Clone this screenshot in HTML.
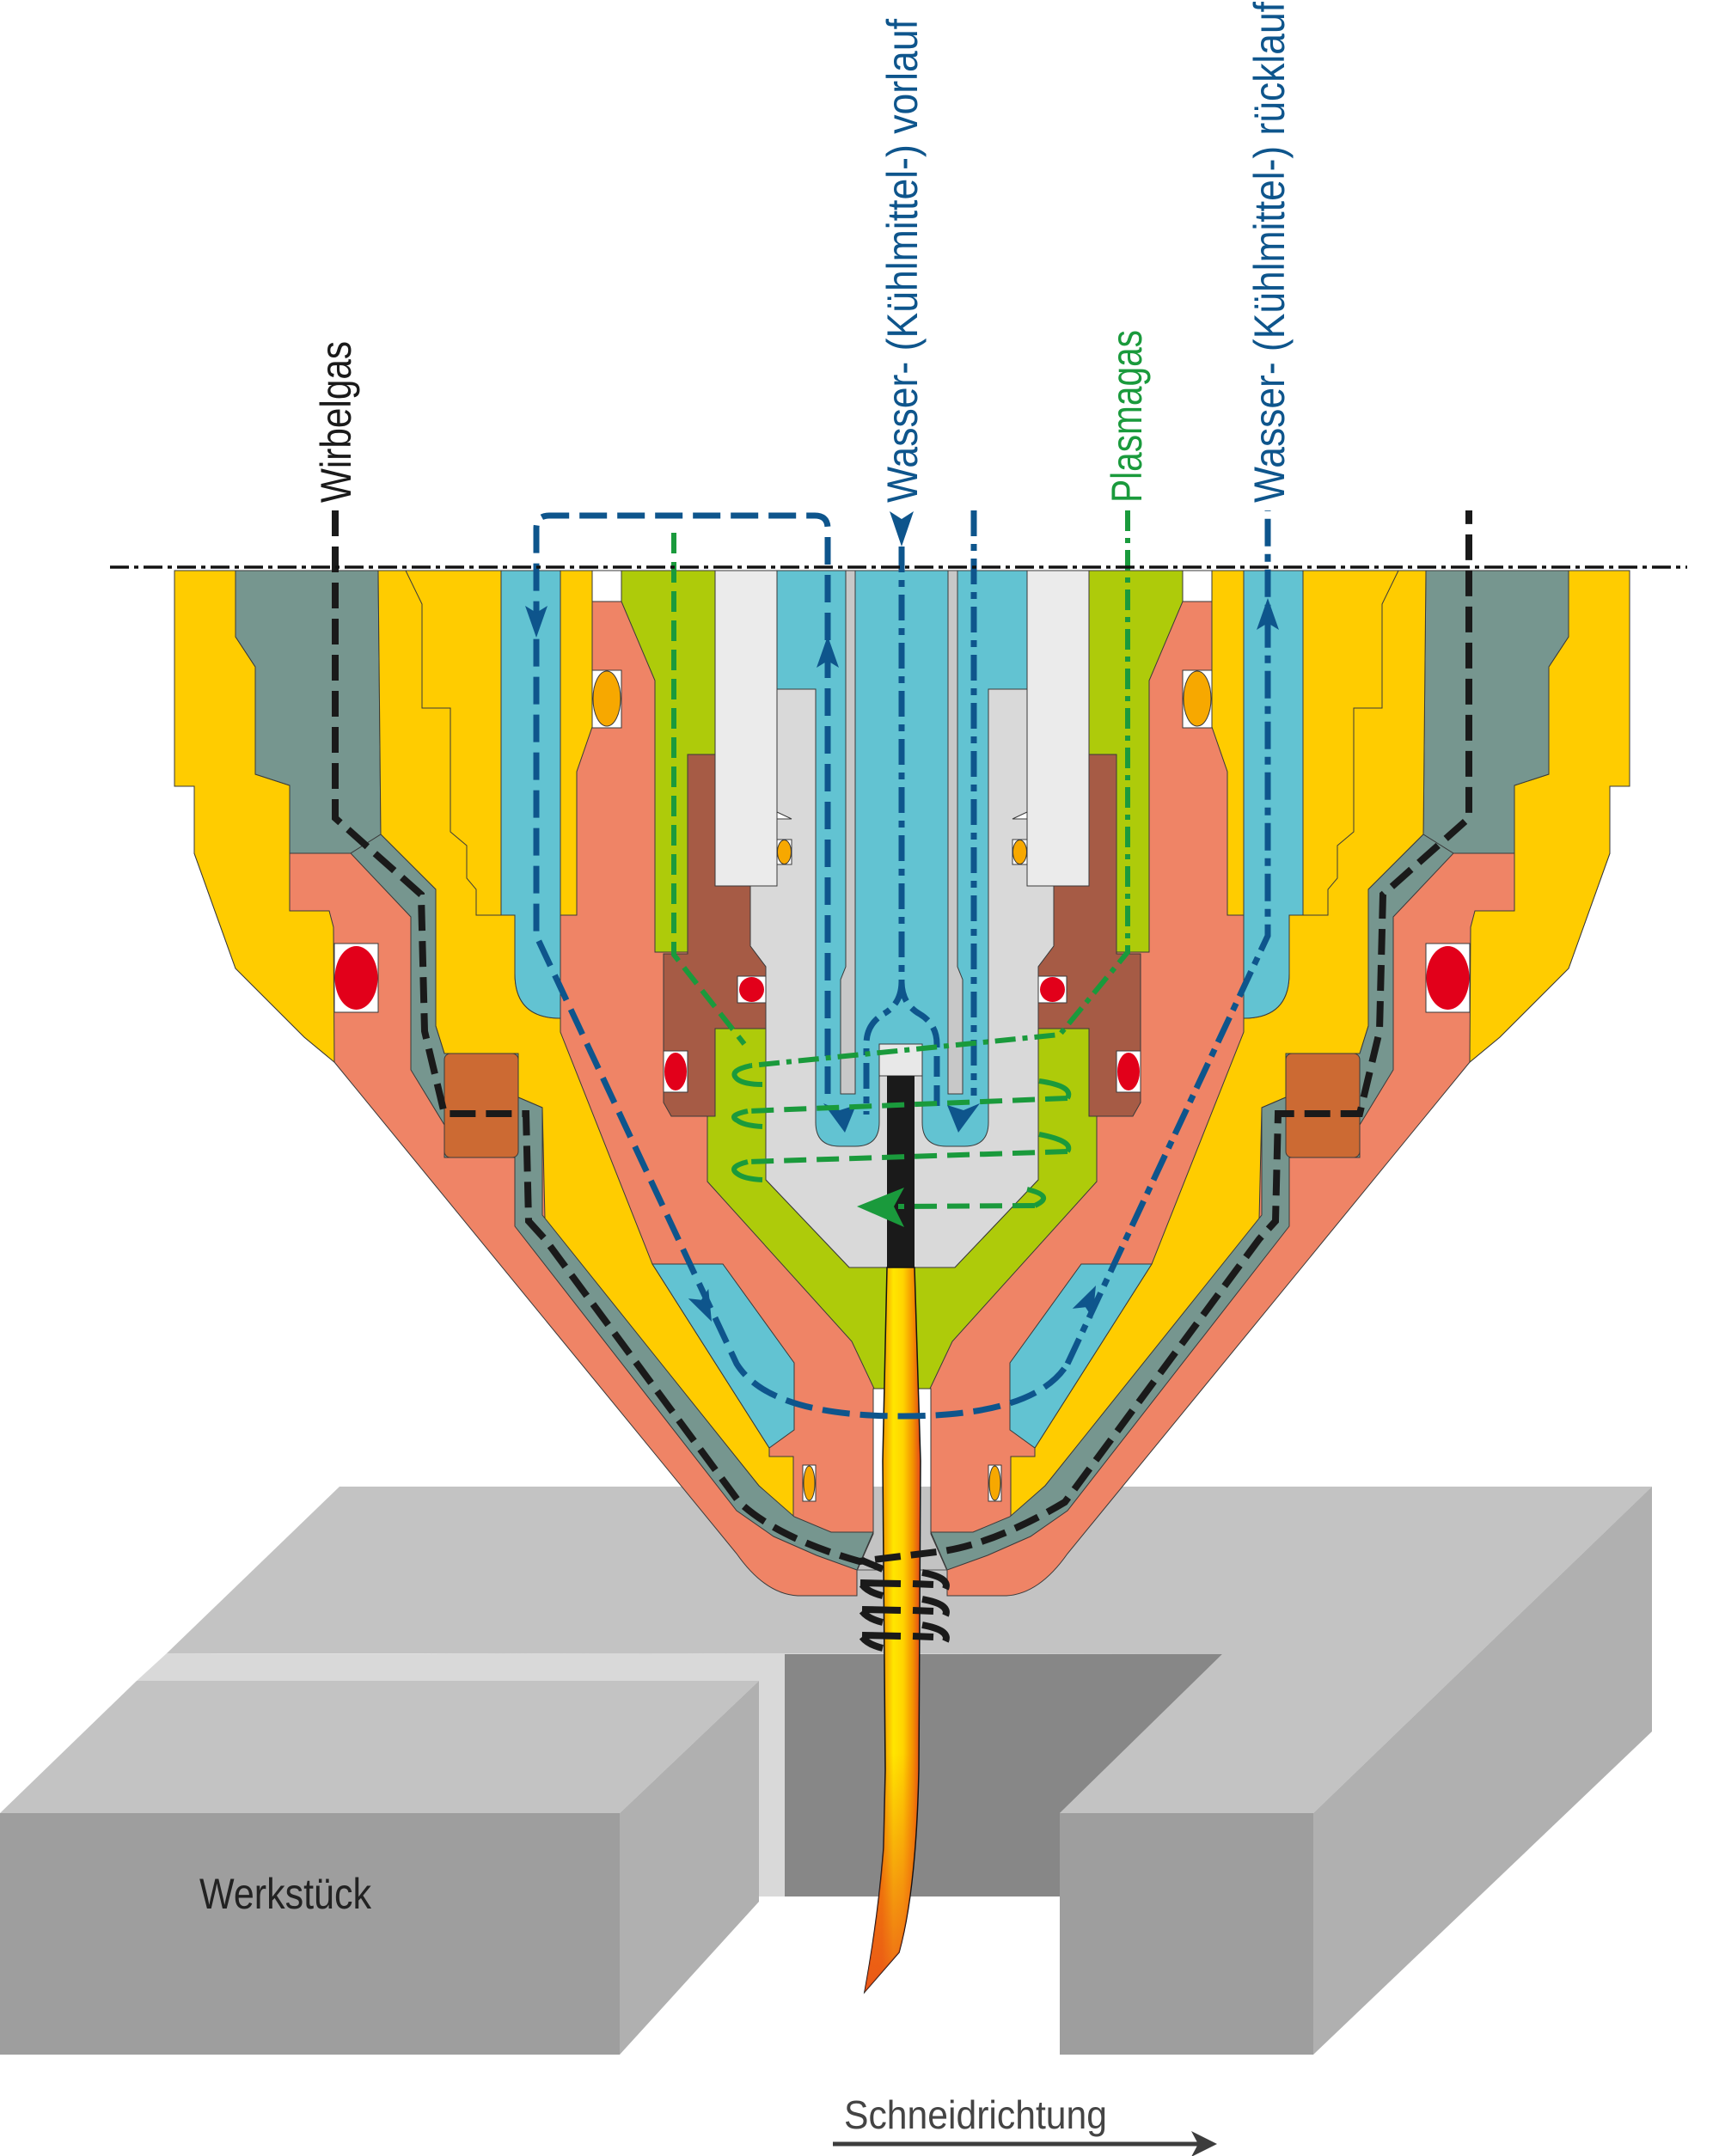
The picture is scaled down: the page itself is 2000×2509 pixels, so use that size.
<!DOCTYPE html>
<html><head><meta charset="utf-8"><style>html,body{margin:0;padding:0;background:#fff}svg{display:block}</style></head>
<body>
<svg xmlns="http://www.w3.org/2000/svg" xmlns:xlink="http://www.w3.org/1999/xlink" width="2000" height="2509" viewBox="0 0 2000 2509">
<defs>
<linearGradient id="fl" x1="1026" y1="0" x2="1071" y2="0" gradientUnits="userSpaceOnUse">
<stop offset="0" stop-color="#F39200"/><stop offset="0.3" stop-color="#FFE600"/><stop offset="0.55" stop-color="#FFD400"/><stop offset="0.8" stop-color="#F39200"/><stop offset="1" stop-color="#E3471A"/>
</linearGradient>
<linearGradient id="fl2" x1="0" y1="2040" x2="0" y2="2318" gradientUnits="userSpaceOnUse">
<stop offset="0" stop-color="#E94E1B" stop-opacity="0"/><stop offset="1" stop-color="#E94E1B" stop-opacity="0.85"/>
</linearGradient>
<g id="A"><path fill="#EF8466" stroke="#3a3a3a" stroke-width="1" d="M203,664 H1049 V1616 H1016 V1785 L997,1828 V1857 H928 Q890,1855 857,1808 L389,1236 L354,1207 L274,1127 L226,993 V915 H203 Z"/></g>
<g id="B" stroke="#3a3a3a" stroke-width="1">
<path fill="#FFCC00" d="M203,664 H274 V741 L297,776 V901 L337,914 V1060 H383 L388,1079 L389,1236 L354,1207 L274,1127 L226,993 V915 H203 Z"/>
<path fill="#76968F" d="M274,664 H440 L443,971 L408,993 H337 V914 L297,901 V776 L274,741 Z"/>
<path fill="#FFCC00" d="M440,664 H583 V1065 H599 V1133 Q599,1185 652,1185 V1201 L759,1471 L895,1685 V1695 H923 V1767 L883,1729 L634,1419 L631,1289 L603,1277 V1226 H517 L507,1194 V1035 L443,971 Z"/>
<path fill="none" d="M472,664 L491,703 V824 H524 V968 L543,984 V1022 L554,1035 V1065 H583"/>
<path fill="#FFCC00" d="M652,664 H689 V846 L671,898 V1065 H652 Z"/>
<path fill="#62C3D2" d="M583,664 H652 V1185 Q599,1185 599,1133 V1065 H583 Z"/>
<rect x="689" y="664" width="34" height="36" fill="#fff"/>
<path fill="#AECB0A" d="M723,664 H832 V878 H800 V1108 H762 V792 L723,700 Z"/>
<rect x="832" y="664" width="72" height="367" fill="#EBEBEB"/>
<path fill="#A65B45" d="M800,878 H832 V1031 H873 V1101 L891,1125 V1197 H832 V1299 H781 L772,1283 V1110 H800 Z"/>
<path fill="#AECB0A" d="M832,1197 H891 V1373 L988,1475 H1049 V1616 H1017 L991,1561 L823,1375 V1299 H832 Z"/>
<path fill="#62C3D2" d="M759,1471 H841 L924,1586 V1664 L895,1685 Z"/>
<path fill="#76968F" d="M408,993 L443,971 L507,1035 V1194 L517,1226 H603 V1277 L631,1289 V1414 L883,1729 L924,1765 L967,1783 H1016 L997,1827 L950,1810 L900,1788 L857,1758 L599,1427 V1347 H517 V1309 L478,1245 V1067 Z"/>
<rect x="517" y="1226" width="86" height="121" rx="7" fill="#CC6A33"/>
<rect x="389" y="1098" width="51" height="80" fill="#fff"/><ellipse cx="414.5" cy="1138" rx="25" ry="37" fill="#E2001A" stroke="none"/>
<rect x="689" y="780" width="34" height="67" fill="#fff"/><ellipse cx="706" cy="813" rx="16" ry="32" fill="#F7A800"/>
<rect x="904" y="977" width="17" height="29" fill="#fff"/><ellipse cx="912.5" cy="991.5" rx="8" ry="14" fill="#F7A800"/>
<path fill="#fff" d="M904,945 L921,953 H904 Z"/>
<rect x="858" y="1136" width="33" height="31" fill="#fff"/><circle cx="874.5" cy="1151.5" r="14.5" fill="#E2001A" stroke="none"/>
<rect x="772" y="1223" width="28" height="48" fill="#fff"/><ellipse cx="786" cy="1247" rx="13" ry="22" fill="#E2001A" stroke="none"/>
<rect x="934" y="1705" width="15" height="42" fill="#fff"/><ellipse cx="941.5" cy="1726" rx="6.5" ry="20" fill="#F7A800"/>
</g>
</defs>

<!-- Workpiece -->
<polygon points="395,1730 1922,1730 1528,2110 1233,2110 1422,1925 194,1924" fill="#C3C3C3"/>
<polygon points="194,1924 913,1925 913,2207 883,2207 883,1956 159,1956" fill="#D9D9D9"/>
<polygon points="913,1925 1422,1925 1233,2110 1233,2207 913,2207" fill="#878787"/>
<polygon points="159,1956 883,1956 721,2110 0,2110" fill="#C3C3C3"/>
<rect x="0" y="2110" width="721" height="281" fill="#9E9E9E"/>
<polygon points="721,2110 883,1956 883,2213 721,2391" fill="#B0B0B0"/>
<rect x="1233" y="2110" width="295" height="281" fill="#9E9E9E"/>
<polygon points="1528,2110 1922,1730 1922,2015 1528,2391" fill="#B0B0B0"/>
<text x="232" y="2221" font-family="Liberation Sans, sans-serif" font-size="50" fill="#222" textLength="200" lengthAdjust="spacingAndGlyphs">Werkstück</text>

<!-- Torch silhouette -->
<use href="#A" xlink:href="#A"/>
<use href="#A" xlink:href="#A" transform="matrix(-1 0 0 1 2099 0)"/>

<!-- Center -->
<g stroke="#3a3a3a" stroke-width="1">
<path fill="#D9D9D9" d="M904,802 H1195 V1031 H1226 V1101 L1208,1125 V1373 L1111,1475 H988 L891,1373 V1125 L873,1101 V1031 H904 Z"/>
<path fill="#62C3D2" d="M904,664 H1195 V802 H1150 V1306 Q1150,1334 1122,1334 H1101 Q1073,1334 1073,1306 V1215 H1023 V1306 Q1023,1334 995,1334 H977 Q949,1334 949,1306 V802 H904 Z"/>
<path fill="#C8C8C8" d="M984,664 H995 V1273 H978 V1140 L984,1125 Z"/>
<path fill="#C8C8C8" d="M1103,664 H1114 V1125 L1120,1140 V1273 H1103 Z"/>
<rect x="1023" y="1215" width="50" height="37" fill="#E8E8E8"/>
</g>
<rect x="1032" y="1252" width="32" height="223" fill="#1A1A1A"/>

<!-- Torch details -->
<use href="#B" xlink:href="#B"/>
<use href="#B" xlink:href="#B" transform="matrix(-1 0 0 1 2099 0)"/>
<path d="M997,1827 H1102" stroke="#555" stroke-width="1"/>

<!-- Flame -->
<path d="M1032,1475 L1064,1475 L1071,1700 L1069,2060 Q1066,2200 1046,2272 L1006,2318 Q1022,2230 1028,2150 L1030,2060 L1027,1700 Z" fill="url(#fl)" stroke="#111" stroke-width="1.5"/>
<path d="M1030,2040 L1069,2040 Q1066,2200 1046,2272 L1006,2318 Q1022,2230 1028,2150 Z" fill="url(#fl2)"/>

<!-- Blue coolant flows -->
<g fill="none" stroke="#0E558C" stroke-width="7">
<path d="M1049,636 V1142 Q1049,1168 1028,1180 Q1008,1192 1008,1215 V1297" stroke-dasharray="30 9 8 9"/>
<path d="M1049,1142 Q1049,1168 1070,1180 Q1090,1192 1090,1215 V1297" stroke-dasharray="24 10"/>
<path d="M963,1273 V615 Q963,600 948,600 H639 Q624,600 624,615 V1089 L857,1587 Q895,1648 1050,1648 Q1205,1648 1242,1587" stroke-dasharray="32 12"/>
<path d="M1242,1587 L1475,1089 V594" stroke-dasharray="32 9 9 9"/>
<path d="M1133,594 V1275" stroke-dasharray="30 9 8 9"/>
</g>
<g fill="#0E558C">
<path d="M1035,595 L1049,604 L1063,595 L1049,636 Z"/>
<path d="M611,705 L624,713 L637,705 L624,742 Z"/>
<path d="M950,777 L963,769 L976,777 L963,740 Z"/>
<path d="M1462,733 L1475,725 L1488,733 L1475,696 Z"/>
<path d="M0,0 L-13,-36 L0,-28 L13,-36 Z" transform="translate(828,1538) rotate(-25.5)"/>
<path d="M0,0 L-13,-36 L0,-28 L13,-36 Z" transform="translate(1275,1496) rotate(205.5)"/>
<path d="M958,1284 L977,1292 L996,1286 L983,1318 Z"/>
<path d="M1102,1286 L1121,1292 L1140,1284 L1115,1318 Z"/>
</g>

<!-- Green plasma gas flows -->
<g fill="none" stroke="#1A9A3C" stroke-width="6">
<path d="M784,620 V1111 L866,1215" stroke-dasharray="24 10"/>
<path d="M1312,594 V1108 L1233,1204 L874,1240" stroke-dasharray="24 8 6 8"/>
<path d="M874,1240 Q846,1246 858,1256 Q866,1262 887,1262"/>
<path d="M1209,1258 Q1250,1264 1242,1278" />
<path d="M1242,1278 L870,1293" stroke-dasharray="26 12"/>
<path d="M870,1293 Q846,1298 858,1304 Q866,1310 887,1311"/>
<path d="M1209,1320 Q1250,1328 1242,1340"/>
<path d="M1242,1340 L870,1352" stroke-dasharray="26 12"/>
<path d="M870,1352 Q846,1358 858,1366 Q866,1372 887,1373"/>
<path d="M1195,1384 Q1228,1392 1204,1403"/>
<path d="M1204,1403 L1045,1404" stroke-dasharray="26 12"/>
</g>
<path d="M997,1404 L1052,1382 L1040,1404 L1052,1428 Z" fill="#1A9A3C"/>

<!-- Black swirl gas flows -->
<g fill="none" stroke="#1A1A1A" stroke-width="8">
<path d="M390,594 V952 L490,1041 L494,1200 L517,1296 H612 L615,1421 L634,1442 L860,1748 Q905,1790 1000,1817 L1098,1805 Q1160,1795 1239,1748 L1465,1442 L1484,1421 L1487,1296 H1582 L1605,1200 L1609,1041 L1709,952 V594" stroke-dasharray="30 12"/>
<path d="M1003,1816 L1027,1826"/>
<path d="M1001,1842 L1048,1843 M1062,1843 L1086,1844"/>
<path d="M1003,1844 Q1010,1853 1027,1857"/>
<path d="M1073,1830 Q1106,1836 1100,1849"/>
<path d="M1003,1873 L1048,1874 M1062,1874 L1086,1875"/>
<path d="M1003,1875 Q1010,1884 1027,1888"/>
<path d="M1073,1861 Q1106,1867 1100,1880"/>
<path d="M1003,1903 L1048,1904 M1062,1904 L1086,1905"/>
<path d="M1003,1905 Q1010,1914 1027,1918"/>
<path d="M1073,1891 Q1106,1897 1100,1910"/>
</g>

<!-- Center line -->
<line x1="128" y1="660" x2="1963" y2="660" stroke="#111" stroke-width="3.5" stroke-dasharray="22 6 5 6"/>

<!-- Labels -->
<g font-family="Liberation Sans, sans-serif" font-size="50">
<text transform="translate(408,585) rotate(-90)" fill="#1A1A1A" textLength="188" lengthAdjust="spacingAndGlyphs">Wirbelgas</text>
<text transform="translate(1067,585) rotate(-90)" fill="#0E558C" textLength="563" lengthAdjust="spacingAndGlyphs">Wasser- (Kühlmittel-) vorlauf</text>
<text transform="translate(1328,585) rotate(-90)" fill="#1A9A3C" textLength="201" lengthAdjust="spacingAndGlyphs">Plasmagas</text>
<text transform="translate(1494,585) rotate(-90)" fill="#0E558C" textLength="583" lengthAdjust="spacingAndGlyphs">Wasser- (Kühlmittel-) rücklauf</text>
</g>

<!-- Cutting direction -->
<text x="982" y="2477" font-family="Liberation Sans, sans-serif" font-size="46" fill="#444" textLength="306" lengthAdjust="spacingAndGlyphs">Schneidrichtung</text>
<line x1="969" y1="2495" x2="1398" y2="2495" stroke="#3d3d3d" stroke-width="5"/>
<path d="M1416,2495 L1386,2480 L1394,2495 L1386,2510 Z" fill="#3d3d3d"/>
</svg>
</body></html>
